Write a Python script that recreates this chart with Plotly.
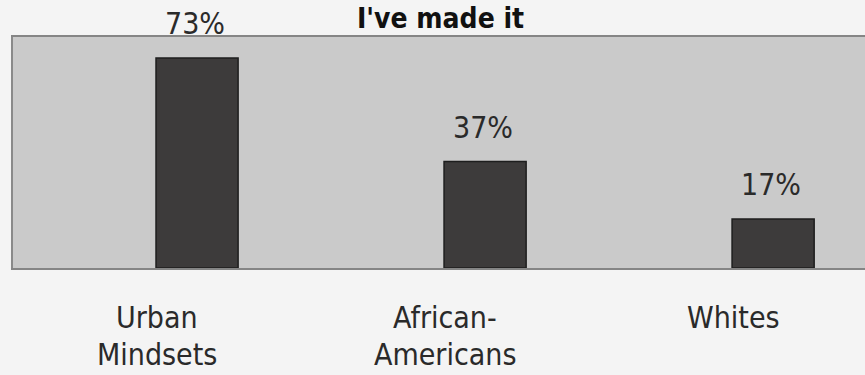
import plotly.graph_objects as go

categories = ["Urban<br>Mindsets", "African-<br>Americans", "Whites"]
values = [73, 37, 17]
value_labels = ["73%", "37%", "17%"]
title_text = "I've made it"

FONT = "Liberation Sans Narrow, Arial Narrow, DejaVu Sans Condensed, Liberation Sans, Arial, sans-serif"

xs = list(range(len(categories)))

fig = go.Figure()
fig.add_trace(go.Bar(
    x=xs, y=values,
    marker=dict(color="#3d3b3b", line=dict(color="#1e1e1e", width=1.5)),
    width=0.285,
    hoverinfo="skip",
))

annotations = []
for x, v, t in zip(xs, values, value_labels):
    annotations.append(dict(
        x=x, y=v, xref="x", yref="y", text=t, showarrow=False,
        yanchor="bottom", xanchor="center", yshift=15, xshift=-2,
        font=dict(family=FONT, size=30, color="#2a2a2a"),
    ))
line_shifts = [-30, -67]
for x, c in zip(xs, categories):
    for i, part in enumerate(c.split("<br>")):
        annotations.append(dict(
            x=x, y=0, xref="x", yref="y", text=part, showarrow=False,
            yanchor="top", xanchor="center", yshift=line_shifts[i], xshift=-40,
            font=dict(family=FONT, size=30, color="#2a2a2a"),
        ))
annotations.append(dict(
    x=0.5, y=1, xref="paper", yref="paper", text="<b>" + title_text + "</b>",
    showarrow=False, yanchor="top", xanchor="center", yshift=37, xshift=1,
    font=dict(family=FONT, size=28, color="#111111"),
))

fig.update_layout(
    width=865, height=375,
    margin=dict(l=13, r=0, t=37, b=107),
    paper_bgcolor="#f4f4f4",
    plot_bgcolor="#cacaca",
    showlegend=False,
    annotations=annotations,
    xaxis=dict(range=[-0.639, 2.319], showticklabels=False, ticks="",
               showgrid=False, zeroline=False, showline=True, mirror=True,
               linecolor="#858585", linewidth=2, fixedrange=True),
    yaxis=dict(range=[0, 80.3], showticklabels=False, ticks="",
               showgrid=False, zeroline=False, showline=True,
               linecolor="#8a8a8a", linewidth=2, fixedrange=True),
)

fig.write_html("out.html")
